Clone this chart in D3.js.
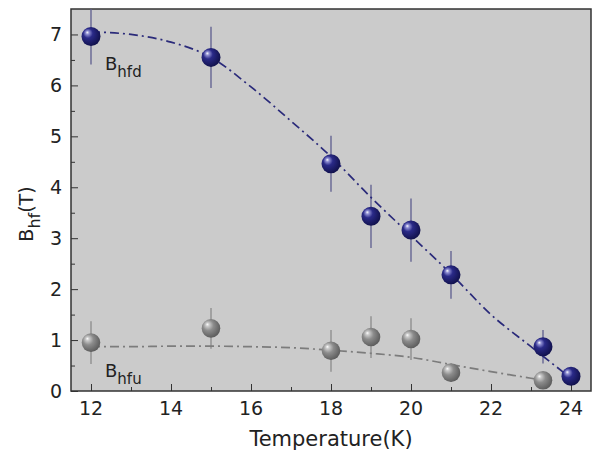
<!DOCTYPE html>
<html>
<head>
<meta charset="utf-8">
<script src="https://cdn.jsdelivr.net/npm/d3@7"></script>
<style>
  body { margin: 0; background: #fff; }
  text { font-family: "DejaVu Sans", Verdana, sans-serif; fill: #222; }
</style>
</head>
<body>
<div id="chart"></div>
<script>
const width = 593;
const height = 451;
const margin = { top: 9, right: 2, bottom: 60, left: 71 };

// measured points (T in K, B in Tesla)
const tempsD = [12, 15, 18, 19, 20, 21, 23.3, 24];
const bhfd = [6.96, 6.55, 4.46, 3.43, 3.16, 2.28, 0.87, 0.29];
const errD = [0.55, 0.6, 0.55, 0.62, 0.62, 0.47, 0.33, 0];

const tempsU = [12, 15, 18, 19, 20, 21, 23.3];
const bhfu = [0.95, 1.23, 0.79, 1.06, 1.02, 0.36, 0.21];
const errU = [0.42, 0.4, 0.41, 0.41, 0.41, 0.18, 0.1];

// fit curves
const fitTD = [12, 13, 14, 15, 16, 17, 18, 19, 20, 21, 22, 23, 24];
const fitD = [7.05, 7.0, 6.85, 6.55, 5.97, 5.3, 4.6, 3.8, 3.05, 2.3, 1.5, 0.87, 0.25];
const fitTU = [12, 13, 14, 15, 16, 17, 18, 19, 20, 21, 22, 23, 23.3];
const fitU = [0.87, 0.87, 0.88, 0.88, 0.87, 0.85, 0.8, 0.74, 0.66, 0.52, 0.38, 0.25, 0.21];

const xTicks = [12, 14, 16, 18, 20, 22, 24];
const yTicks = [0, 1, 2, 3, 4, 5, 6, 7];

const svg = d3.select("#chart").append("svg")
  .attr("width", width)
  .attr("height", height);

const x = d3.scaleLinear().domain([11.5, 24.5]).range([margin.left, width - margin.right]);
const y = d3.scaleLinear().domain([0, 7.5]).range([height - margin.bottom, margin.top]);

const defs = svg.append("defs");
function ball(id, stops) {
  const g = defs.append("radialGradient").attr("id", id)
    .attr("cx", "40%").attr("cy", "40%").attr("r", "60%")
    .attr("fx", "30%").attr("fy", "28%");
  stops.forEach(s => g.append("stop").attr("offset", s[0]).attr("stop-color", s[1]));
}
ball("blueBall", [["0%", "#ffffff"], ["15%", "#9090d4"], ["42%", "#2a2a88"], ["100%", "#12124e"]]);
ball("grayBall", [["0%", "#ffffff"], ["15%", "#cccccc"], ["48%", "#8c8c8c"], ["100%", "#5e5e5e"]]);
defs.append("clipPath").attr("id", "plotClip").append("rect")
  .attr("x", margin.left).attr("y", margin.top)
  .attr("width", width - margin.right - margin.left)
  .attr("height", height - margin.bottom - margin.top);

// plot background
svg.append("rect")
  .attr("x", margin.left).attr("y", margin.top)
  .attr("width", width - margin.right - margin.left)
  .attr("height", height - margin.bottom - margin.top)
  .attr("fill", "#cbcbcb");

// axes with inward ticks
const xAxis = svg.append("g")
  .attr("transform", `translate(0,${height - margin.bottom})`)
  .call(d3.axisBottom(x).tickValues(d3.range(12, 25, 1)).tickSize(-7).tickFormat(""));
xAxis.selectAll(".tick line").attr("y2", d => d % 2 === 0 ? -7 : -4).attr("stroke", "#333");
xAxis.select(".domain").remove();
svg.append("g").selectAll("text").data(xTicks).join("text")
  .attr("x", d => x(d)).attr("y", height - margin.bottom + 24)
  .attr("text-anchor", "middle").attr("font-size", 19)
  .text(d => d);

const yAxis = svg.append("g")
  .attr("transform", `translate(${margin.left},0)`)
  .call(d3.axisLeft(y).tickValues(d3.range(0, 7.5, 0.5)).tickSize(-7).tickFormat(""));
yAxis.selectAll(".tick line").attr("x2", d => d % 1 === 0 ? 7 : 4).attr("stroke", "#333");
yAxis.select(".domain").remove();
svg.append("g").selectAll("text").data(yTicks).join("text")
  .attr("x", margin.left - 9).attr("y", d => y(d) + 7)
  .attr("text-anchor", "end").attr("font-size", 19)
  .text(d => d);

// frame
svg.append("rect")
  .attr("x", margin.left).attr("y", margin.top)
  .attr("width", width - margin.right - margin.left)
  .attr("height", height - margin.bottom - margin.top)
  .attr("fill", "none").attr("stroke", "#333").attr("stroke-width", 1.5);

const plot = svg.append("g").attr("clip-path", "url(#plotClip)");

// error bars
function errBars(ts, vs, es, color) {
  plot.append("g").selectAll("line").data(ts).join("line")
    .attr("x1", d => x(d)).attr("x2", d => x(d))
    .attr("y1", (d, i) => y(vs[i] + es[i]))
    .attr("y2", (d, i) => y(vs[i] - es[i]))
    .attr("stroke", color).attr("stroke-width", 1.3);
}
errBars(tempsD, bhfd, errD, "#5d5d8e");
errBars(tempsU, bhfu, errU, "#8a8a8a");

// fit lines
const line = d3.line().x(d => x(d[0])).y(d => y(d[1])).curve(d3.curveMonotoneX);
plot.append("path")
  .attr("d", line(d3.zip(fitTD, fitD)))
  .attr("fill", "none").attr("stroke", "#2a2a7a").attr("stroke-width", 1.7)
  .attr("stroke-dasharray", "9,4,2,4");
plot.append("path")
  .attr("d", line(d3.zip(fitTU, fitU)))
  .attr("fill", "none").attr("stroke", "#7c7c7c").attr("stroke-width", 1.7)
  .attr("stroke-dasharray", "9,4,2,4");

// spheres
plot.append("g").selectAll("circle").data(tempsU).join("circle")
  .attr("cx", d => x(d)).attr("cy", (d, i) => y(bhfu[i]))
  .attr("r", 9.3).attr("fill", "url(#grayBall)");
plot.append("g").selectAll("circle").data(tempsD).join("circle")
  .attr("cx", d => x(d)).attr("cy", (d, i) => y(bhfd[i]))
  .attr("r", 9.5).attr("fill", "url(#blueBall)");

// series labels
function subLabel(px, py, main, sub) {
  const t = svg.append("text").attr("x", px).attr("y", py).attr("font-size", 18);
  t.append("tspan").text(main);
  t.append("tspan").attr("dy", 7).attr("font-size", 15).text(sub);
}
subLabel(105, 70, "B", "hfd");
subLabel(105, 377, "B", "hfu");

// axis titles
svg.append("text")
  .attr("x", (margin.left + width - margin.right) / 2)
  .attr("y", 446)
  .attr("text-anchor", "middle").attr("font-size", 21)
  .text("Temperature(K)");

const yt = svg.append("text")
  .attr("transform", "translate(33,214) rotate(-90)")
  .attr("text-anchor", "middle").attr("font-size", 19);
yt.append("tspan").text("B");
yt.append("tspan").attr("dy", 7).attr("font-size", 16).text("hf");
yt.append("tspan").attr("dy", -7).text("(T)");
</script>
</body>
</html>
